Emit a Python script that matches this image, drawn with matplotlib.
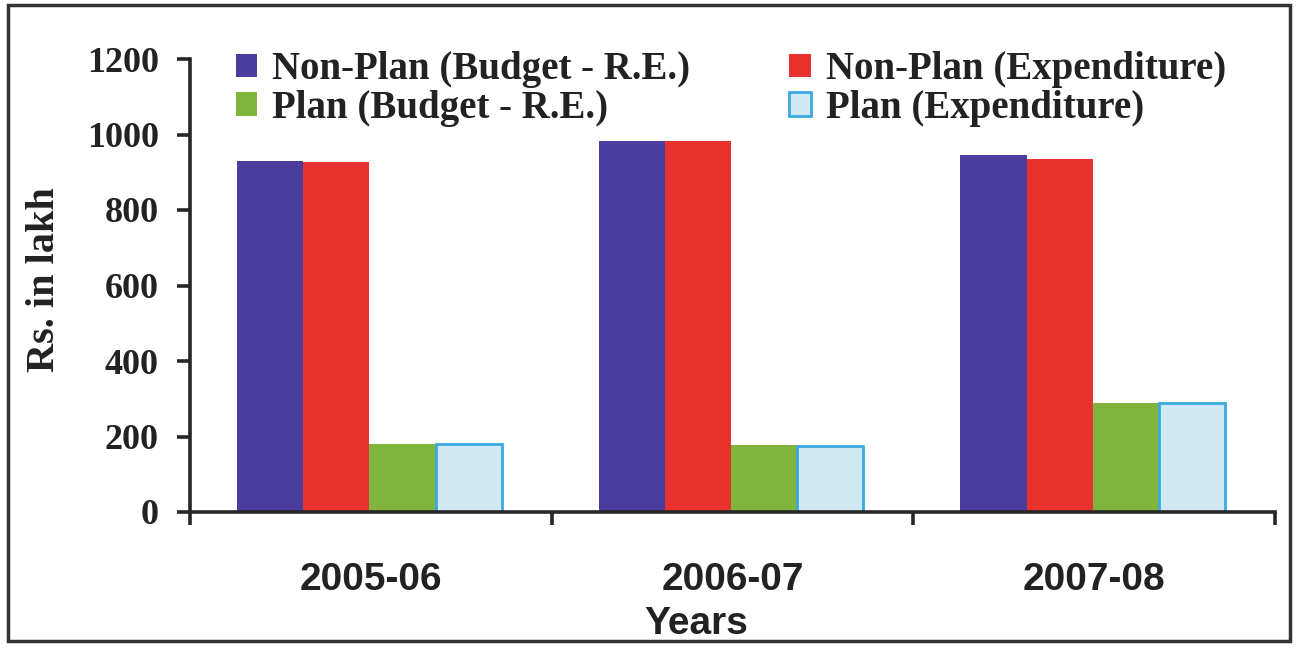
import numpy as np
import matplotlib
matplotlib.use("Agg")
import matplotlib.pyplot as plt
from matplotlib.patches import Rectangle

years = ["2005-06", "2006-07", "2007-08"]
series = ["Non-Plan (Budget - R.E.)", "Non-Plan (Expenditure)",
          "Plan (Budget - R.E.)", "Plan (Expenditure)"]
nonplan_budget = [930, 984, 946]
nonplan_exp = [927, 983, 935]
plan_budget = [180, 177, 290]
plan_exp = [179, 176, 290]
yticks = [0, 200, 400, 600, 800, 1000, 1200]

colors = ["#4B3D9E", "#E8322D", "#80B43C", "#CFE8F3"]
edges = ["#4B3D9E", "#E8322D", "#80B43C", "#3BA9E1"]
ink = "#222222"

fig = plt.figure(figsize=(12.98, 6.5), dpi=100)
fig.patch.set_facecolor("white")
ax = fig.add_axes([190 / 1298, 1 - 512 / 650, 1085 / 1298, 453 / 650])

x = np.arange(len(years))
w = 0.183
bars = []
for i, vals in enumerate([nonplan_budget, nonplan_exp, plan_budget, plan_exp]):
    b = ax.bar(x + (i - 1.5) * w - 0.004, vals, w, color=colors[i],
               edgecolor=edges[i], linewidth=2 if i == 3 else 0,
               label=series[i], zorder=2)
    bars.append(b)

ax.set_xlim(-0.5, 2.5)
ax.set_ylim(0, 1200)
ax.spines["top"].set_visible(False)
ax.spines["right"].set_visible(False)
for s in ["left", "bottom"]:
    ax.spines[s].set_linewidth(2.6)
    ax.spines[s].set_color("#262626")

ax.set_yticks(yticks)
ax.set_yticklabels([str(v) for v in yticks], family="Liberation Serif",
                   fontweight="bold", fontsize=26, color=ink)
ax.tick_params(axis="y", direction="out", length=9.5, width=2.6,
               color="#262626", pad=13)

ax.set_xticks(x)
ax.set_xticklabels(years, family=["Liberation Sans Narrow", "Liberation Sans"],
                   fontweight="bold", fontsize=28, color=ink)
ax.tick_params(axis="x", which="major", length=0, pad=36)
ax.set_xticks([-0.5, 0.5, 1.5, 2.5], minor=True)
ax.tick_params(axis="x", which="minor", direction="out", length=9.5,
               width=2.6, color="#262626")

ax.set_ylabel("Rs. in lakh", family="Liberation Serif", fontweight="bold",
              fontsize=29, color=ink, va="center")
ax.yaxis.set_label_coords((45 - 190) / 1085, (512 - 280) / 453)
ax.set_xlabel("Years", family=["Liberation Sans Narrow", "Liberation Sans"],
              fontweight="bold", fontsize=28, color=ink, va="top")
ax.xaxis.set_label_coords((696 - 190) / 1085, (512 - 606) / 453)

# legend: column 1 = Non-Plan budget / Plan budget, column 2 = the expenditures
order = [0, 2, 1, 3]
ax.legend([bars[k] for k in order], [series[k] for k in order], ncol=2,
          loc="upper left", bbox_to_anchor=(236 / 1298, 1 - 51 / 650),
          bbox_transform=fig.transFigure, frameon=False, borderpad=0,
          borderaxespad=0, handlelength=0.55, handleheight=0.55,
          handletextpad=0.38, columnspacing=2.55, labelspacing=0.05,
          prop={"family": "Liberation Serif", "weight": "bold", "size": 28},
          labelcolor=ink)

# outer frame of the picture
fig.patches.append(Rectangle((8 / 1298, 1 - 641 / 650), 1282 / 1298, 636 / 650,
                             transform=fig.transFigure, fill=False,
                             edgecolor="#333333", linewidth=2.5))

fig.savefig("out.png", dpi=100)
